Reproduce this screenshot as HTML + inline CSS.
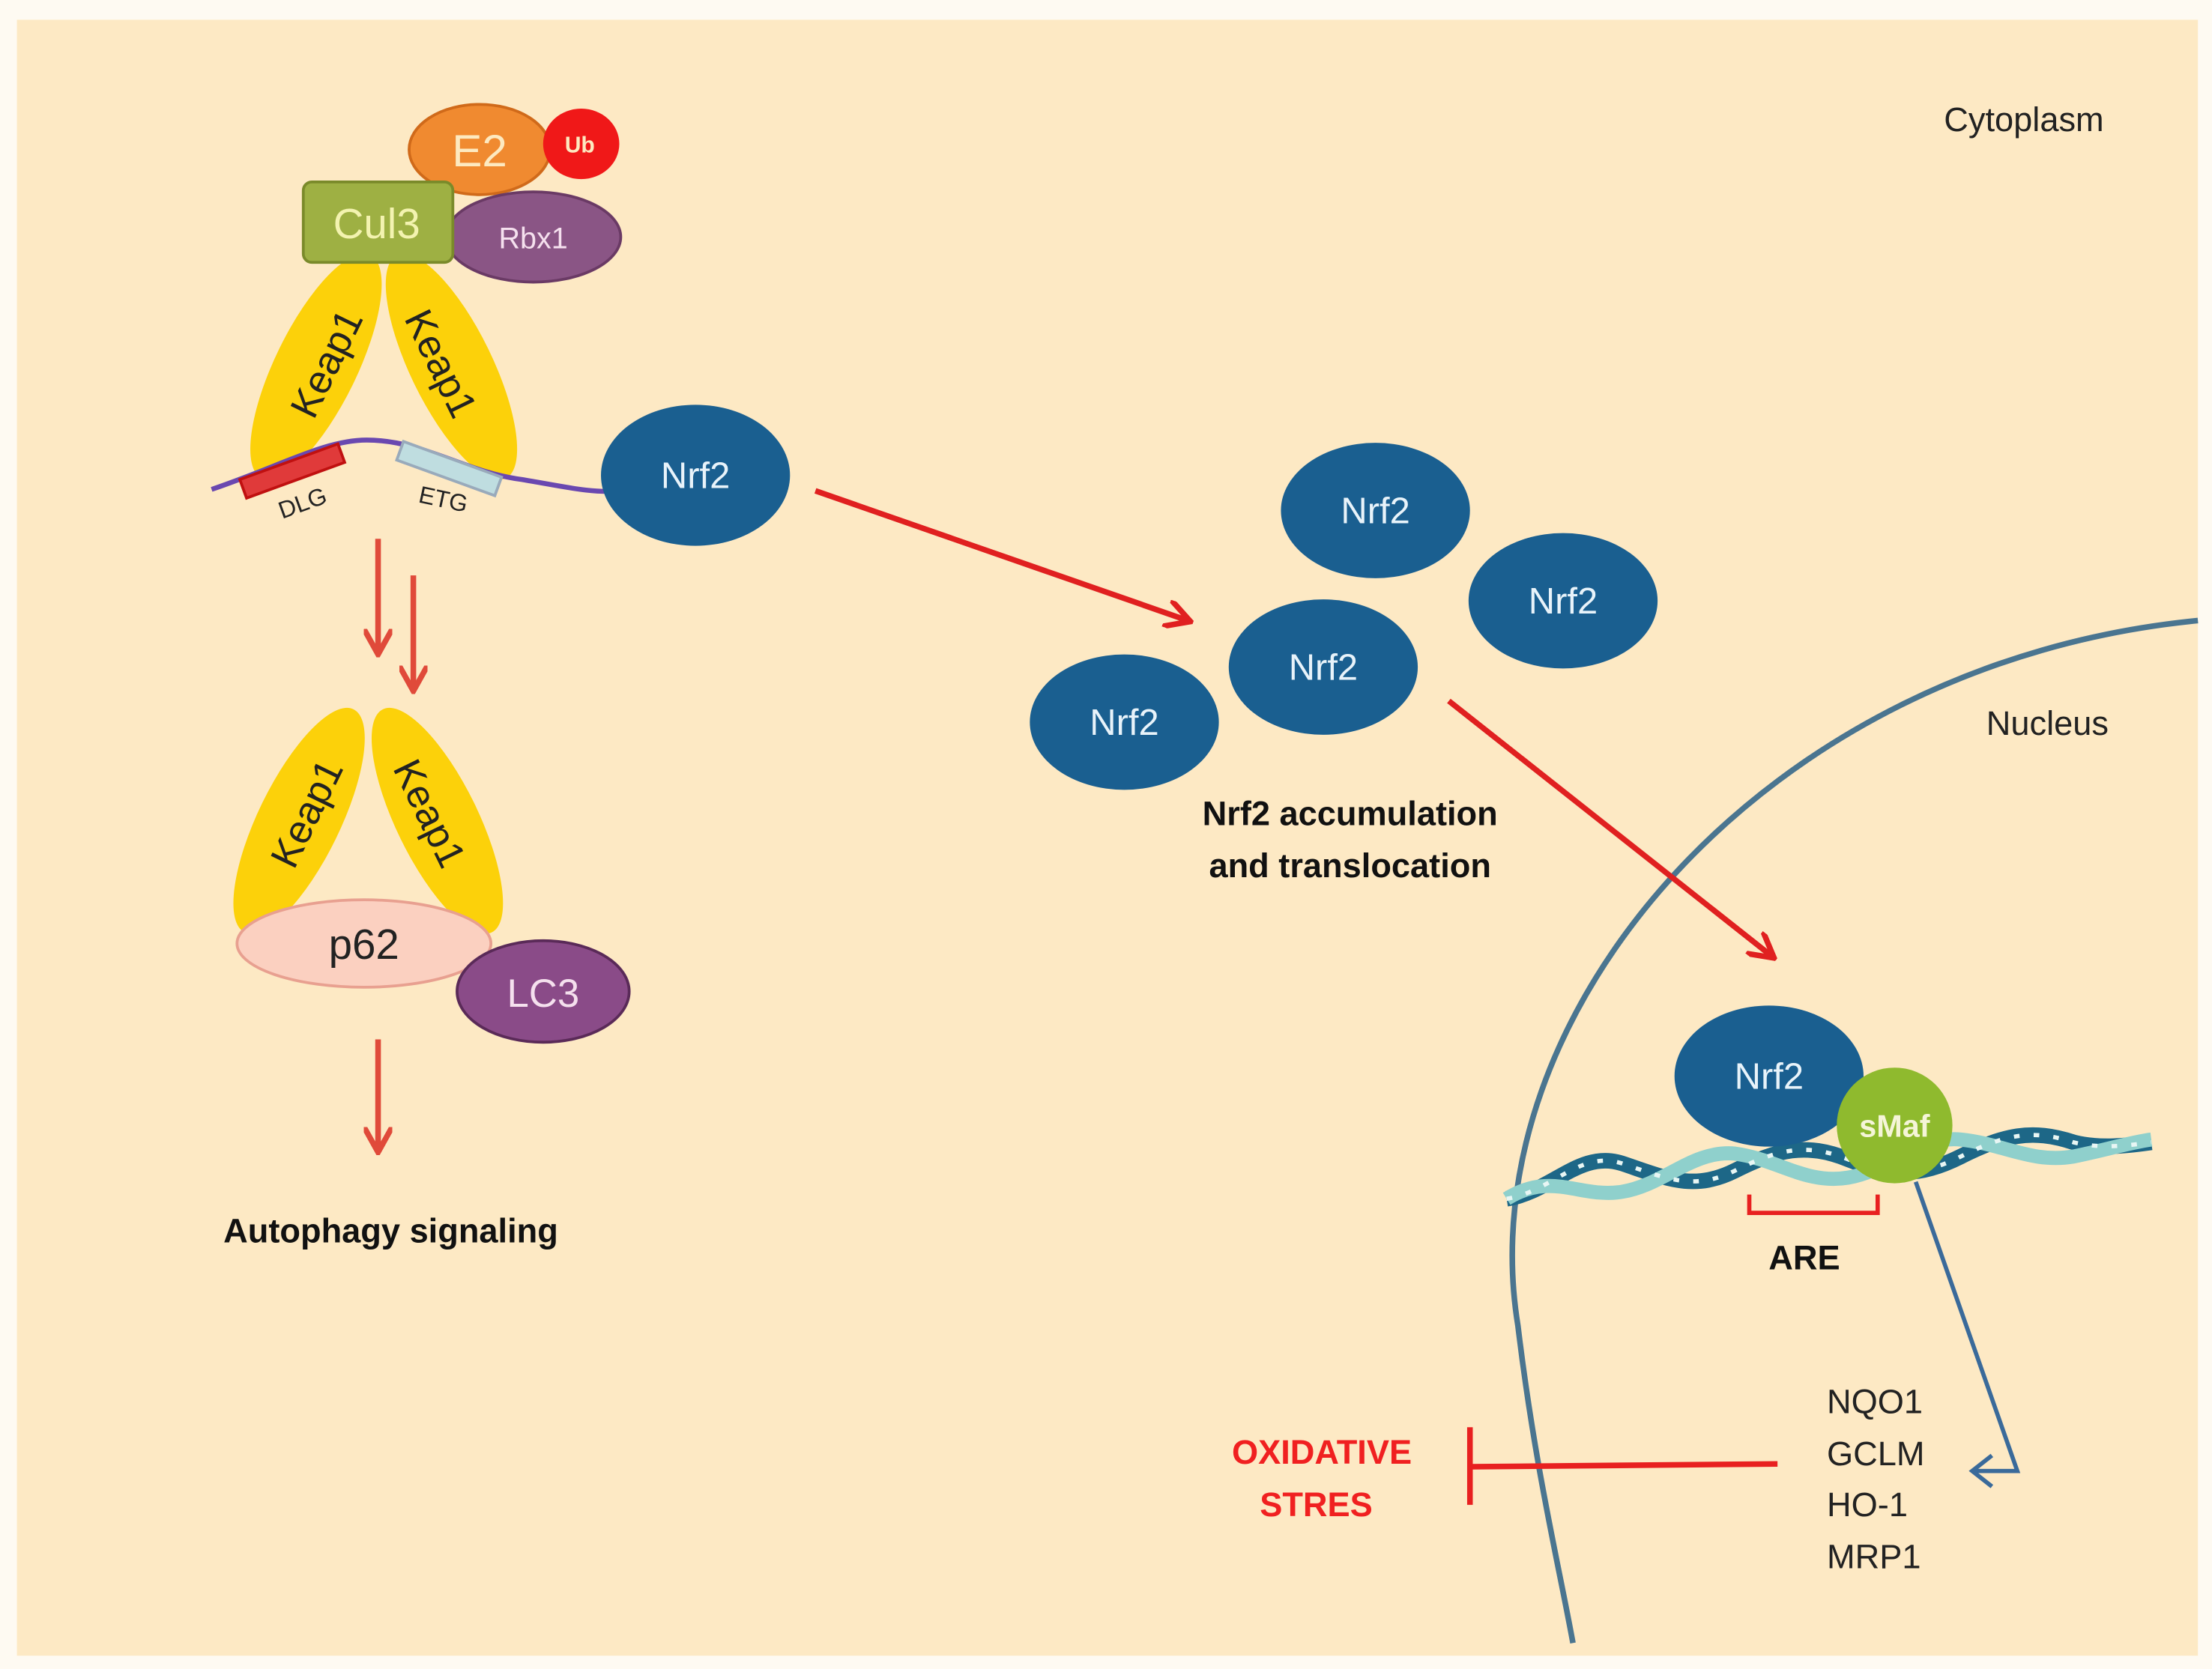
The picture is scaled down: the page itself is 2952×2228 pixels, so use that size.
<!DOCTYPE html>
<html><head><meta charset="utf-8"><style>
html,body{margin:0;padding:0;background:#fff}
svg{display:block}
text{font-family:"Liberation Sans",sans-serif}
</style></head><body>
<svg width="2952" height="2228" viewBox="0 0 1568 1183.4" xmlns="http://www.w3.org/2000/svg">
<defs>
<marker id="ar" viewBox="0 0 10 10" refX="8" refY="5" markerWidth="5" markerHeight="5" orient="auto"><path d="M0,0 L9,5 L0,10" fill="none" stroke="#e02020" stroke-width="2"/></marker>
<marker id="ar2" viewBox="0 0 10 10" refX="8" refY="5" markerWidth="5" markerHeight="5" orient="auto"><path d="M0,0 L9,5 L0,10" fill="none" stroke="#e04a3a" stroke-width="2"/></marker>
</defs>
<rect width="1568" height="1183.4" fill="#fefaf2"/>
<rect x="12" y="14" width="1546" height="1160" fill="#fde9c4"/>

<text x="1378" y="93" font-size="24" fill="#222">Cytoplasm</text>
<text x="1408" y="521" font-size="24" fill="#222">Nucleus</text>

<!-- nucleus -->
<path d="M1558,440 C1250,470 1040,720 1076,940 C1088,1040 1105,1110 1115,1165" fill="none" stroke="#4a7590" stroke-width="4"/>

<!-- top complex -->
<ellipse cx="340" cy="106" rx="50" ry="32" fill="#f08a30" stroke="#d06a1a" stroke-width="2"/>
<text x="340" y="118" font-size="32" fill="#fde9c0" text-anchor="middle">E2</text>
<ellipse cx="412" cy="102" rx="27" ry="25" fill="#f01818"/>
<text x="411" y="108" font-size="16" font-weight="bold" fill="#fde9c0" text-anchor="middle">Ub</text>
<ellipse cx="378" cy="168" rx="62" ry="32" fill="#8a5585" stroke="#6a3a65" stroke-width="2"/>
<text x="378" y="176" font-size="21" fill="#f5e0ee" text-anchor="middle">Rbx1</text>

<ellipse cx="0" cy="0" rx="88" ry="29" transform="translate(224,260) rotate(-64)" fill="#fcd10a"/>
<ellipse cx="0" cy="0" rx="88" ry="29" transform="translate(320,260) rotate(64)" fill="#fcd10a"/>
<rect x="215" y="129" width="106" height="57" rx="6" fill="#9eb043" stroke="#7a8a2a" stroke-width="2"/>
<text x="267" y="169" font-size="30" fill="#f3f3b0" text-anchor="middle">Cul3</text>
<text font-size="28" fill="#222" text-anchor="middle" transform="translate(232,258) rotate(-64)" dy="9">Keap1</text>
<text font-size="28" fill="#222" text-anchor="middle" transform="translate(312,258) rotate(64)" dy="9">Keap1</text>

<path d="M150,347 C200,330 230,312 260,312 C300,312 330,335 370,340 C400,345 420,350 440,348" fill="none" stroke="#6a48b0" stroke-width="3.5"/>
<rect x="0" y="0" width="74" height="14" transform="translate(170,340) rotate(-20)" fill="#e03a3a" stroke="#c01010" stroke-width="2"/>
<rect x="0" y="0" width="74" height="14" transform="translate(286,313) rotate(20)" fill="#bfdde0" stroke="#9ab" stroke-width="2"/>
<text font-size="17" fill="#222" transform="translate(200,368) rotate(-20)">DLG</text>
<text font-size="17" fill="#222" transform="translate(296,356) rotate(12)">ETG</text>

<!-- Nrf2 nodes -->
<g fill="#1a5f90">
<ellipse cx="493" cy="337" rx="67" ry="50"/>
<ellipse cx="975" cy="362" rx="67" ry="48"/>
<ellipse cx="1108" cy="426" rx="67" ry="48"/>
<ellipse cx="938" cy="473" rx="67" ry="48"/>
<ellipse cx="797" cy="512" rx="67" ry="48"/>
</g>
<g font-size="26" fill="#e8f3fa" text-anchor="middle">
<text x="493" y="346">Nrf2</text>
<text x="975" y="371">Nrf2</text>
<text x="1108" y="435">Nrf2</text>
<text x="938" y="482">Nrf2</text>
<text x="797" y="521">Nrf2</text>
</g>

<!-- red arrows -->
<line x1="578" y1="348" x2="842" y2="440" stroke="#e02020" stroke-width="4" marker-end="url(#ar)"/>
<line x1="1027" y1="497" x2="1256" y2="678" stroke="#e02020" stroke-width="4" marker-end="url(#ar)"/>
<text x="957" y="585" font-size="24" font-weight="bold" fill="#111" text-anchor="middle">Nrf2 accumulation</text>
<text x="957" y="622" font-size="24" font-weight="bold" fill="#111" text-anchor="middle">and translocation</text>

<!-- down arrows -->
<line x1="268" y1="382" x2="268" y2="462" stroke="#e04a3a" stroke-width="4" marker-end="url(#ar2)"/>
<line x1="293" y1="408" x2="293" y2="488" stroke="#e04a3a" stroke-width="4" marker-end="url(#ar2)"/>
<line x1="268" y1="737" x2="268" y2="815" stroke="#e04a3a" stroke-width="4" marker-end="url(#ar2)"/>

<!-- lower complex -->
<ellipse cx="0" cy="0" rx="88" ry="29" transform="translate(212,582) rotate(-64)" fill="#fcd10a"/>
<ellipse cx="0" cy="0" rx="88" ry="29" transform="translate(310,582) rotate(64)" fill="#fcd10a"/>
<text font-size="28" fill="#222" text-anchor="middle" transform="translate(218,577) rotate(-64)" dy="9">Keap1</text>
<text font-size="28" fill="#222" text-anchor="middle" transform="translate(304,577) rotate(64)" dy="9">Keap1</text>
<ellipse cx="258" cy="669" rx="90" ry="31" fill="#fbd0c0" stroke="#e8a090" stroke-width="2"/>
<text x="258" y="680" font-size="30" fill="#222" text-anchor="middle">p62</text>
<ellipse cx="385" cy="703" rx="61" ry="36" fill="#8a4b88" stroke="#5a2a58" stroke-width="2"/>
<text x="385" y="714" font-size="28" fill="#f5e0ee" text-anchor="middle">LC3</text>
<text x="277" y="881" font-size="24" font-weight="bold" fill="#111" text-anchor="middle">Autophagy signaling</text>

<!-- DNA -->
<path d="M1068,850 C1100,845 1120,815 1150,825 C1180,835 1200,845 1230,830 C1260,815 1280,810 1310,822 C1340,834 1360,835 1390,820 C1420,805 1440,800 1470,810 C1490,815 1510,812 1525,810" fill="none" stroke="#1d6787" stroke-width="11"/>
<path d="M1068,850 C1100,830 1120,850 1150,845 C1180,840 1200,815 1230,818 C1260,822 1280,840 1310,835 C1340,830 1360,805 1390,808 C1420,811 1440,825 1470,820 C1490,816 1510,810 1525,808" fill="none" stroke="#8fd0cc" stroke-width="10"/>
<path d="M1068,850 C1100,845 1120,815 1150,825 C1180,835 1200,845 1230,830 C1260,815 1280,810 1310,822 C1340,834 1360,835 1390,820 C1420,805 1440,800 1470,810 C1490,815 1510,812 1525,810" fill="none" stroke="#e8f6f4" stroke-width="3" stroke-dasharray="4 10"/>

<ellipse cx="1254" cy="763" rx="67" ry="50" fill="#1a5f90"/>
<text x="1254" y="772" font-size="26" fill="#e8f3fa" text-anchor="middle">Nrf2</text>
<circle cx="1343" cy="798" r="41" fill="#8fba2e"/>
<text x="1343" y="806" font-size="22" font-weight="bold" fill="#f5f5d8" text-anchor="middle">sMaf</text>
<path d="M1240,847 L1240,860 L1331,860 L1331,847" fill="none" stroke="#e82020" stroke-width="3"/>
<text x="1279" y="900" font-size="24" font-weight="bold" fill="#111" text-anchor="middle">ARE</text>

<!-- blue arrow -->
<path d="M1358,838 L1430,1043 L1400,1043" fill="none" stroke="#3a6a9a" stroke-width="3"/>
<path d="M1412,1032 L1398,1043 L1412,1054" fill="none" stroke="#3a6a9a" stroke-width="3"/>

<g font-size="24" fill="#222">
<text x="1295" y="1002">NQO1</text>
<text x="1295" y="1039">GCLM</text>
<text x="1295" y="1075">HO-1</text>
<text x="1295" y="1112">MRP1</text>
</g>

<!-- inhibition -->
<line x1="1260" y1="1038" x2="1042" y2="1040" stroke="#e82020" stroke-width="4"/>
<line x1="1042" y1="1012" x2="1042" y2="1067" stroke="#e82020" stroke-width="4"/>
<text x="937" y="1038" font-size="24" font-weight="bold" fill="#f02020" text-anchor="middle">OXIDATIVE</text>
<text x="933" y="1075" font-size="24" font-weight="bold" fill="#f02020" text-anchor="middle">STRES</text>
</svg>
</body></html>
